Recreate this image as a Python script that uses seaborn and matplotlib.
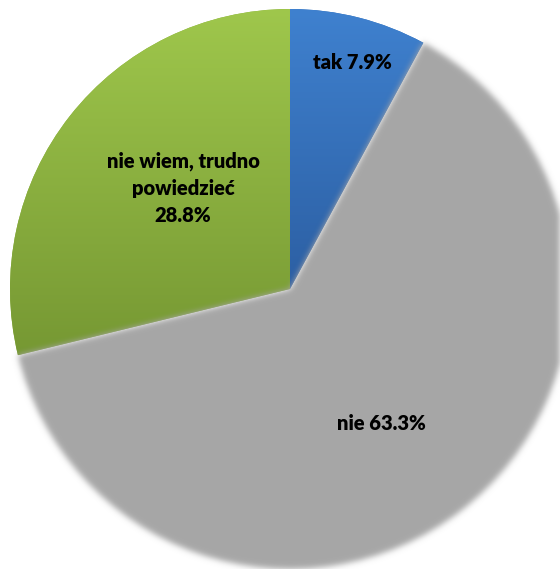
import numpy as np
import matplotlib
matplotlib.use("Agg")
import matplotlib.pyplot as plt
import seaborn as sns

# Survey answers and their shares (percent)
categories = ["tak", "nie", "nie wiem, trudno\npowiedzieć"]
shares = [7.9, 63.3, 28.8]

# Fill colours: top and bottom of each slice's vertical gradient
top_colors = ["#3F81CF", "#A6A6A6", "#9FC74C"]
bottom_colors = ["#2C5FA3", "#A6A6A6", "#769833"]

# Label placement: fraction of radius and angular nudge (degrees)
label_radius = [0.84, 0.58, 0.525]
label_turn = [-1.1, -3.3, -5.2]

sns.set_theme(style="white")
plt.rcParams["font.family"] = ["Lato", "DejaVu Sans"]

W, H = 560, 569
fig = plt.figure(figsize=(W / 100, H / 100), dpi=100)
ax = fig.add_axes([0, 0, 1, 1])

cx, cy, R = 290, H - 289, 280
wedges, _ = ax.pie(
    shares,
    startangle=90,
    counterclock=False,
    center=(cx, cy),
    radius=R,
    colors=[sns.blend_palette([t, b], 3)[1] for t, b in zip(top_colors, bottom_colors)],
    wedgeprops=dict(linewidth=0),
)


class SoftEdge:
    """Agg filter: feathers the artist's outline with a Gaussian blur of its alpha."""

    def __init__(self, sigma, color):
        self.sigma = sigma
        self.rgb = np.array(matplotlib.colors.to_rgb(color))

    def _blur(self, a, axis, s):
        x = np.arange(-self.pad, self.pad + 1)
        k = np.exp(-0.5 * (x / s) ** 2)
        k /= k.sum()
        out = np.zeros_like(a)
        for j, w in zip(x, k):
            out += w * np.roll(a, j, axis=axis)
        return out

    def __call__(self, im, dpi):
        s = self.sigma * dpi / 100
        self.pad = int(3 * s) + 2
        pad = self.pad
        src = np.pad(im, [(pad, pad), (pad, pad), (0, 0)], "constant")
        alpha = self._blur(self._blur(src[..., 3], 0, s), 1, s)
        out = np.empty_like(src)
        out[..., :3] = self.rgb
        out[..., 3] = alpha
        return out, -pad, -pad


for i, w in enumerate(wedges):
    if top_colors[i] == bottom_colors[i]:
        w.set_zorder(3)
        w.set_agg_filter(SoftEdge(3.0, top_colors[i]))
        continue
    w.set_zorder(1)
    ext = w.get_path().get_extents()
    grad = np.array(sns.blend_palette([top_colors[i], bottom_colors[i]], 256))[:, None, :]
    img = ax.imshow(
        grad,
        extent=(ext.x0, ext.x1, ext.y0, ext.y1),
        origin="upper",
        aspect="auto",
        interpolation="bilinear",
        zorder=2,
    )
    img.set_clip_path(w)

# Labels
for i, w in enumerate(wedges):
    mid = np.deg2rad((w.theta1 + w.theta2) / 2 + label_turn[i])
    r = label_radius[i] * R
    sep = "\n" if "\n" in categories[i] else " "
    ax.text(
        cx + r * np.cos(mid),
        cy + r * np.sin(mid),
        f"{categories[i]}{sep}{shares[i]:.1f}%",
        ha="center",
        va="center",
        multialignment="center",
        fontsize=14.5,
        fontweight="heavy",
        color="black",
        linespacing=1.5,
        zorder=5,
    )

ax.set_xlim(0, W)
ax.set_ylim(0, H)
ax.set_aspect("equal")
ax.axis("off")
fig.savefig("out.png", dpi=100, facecolor="white")
